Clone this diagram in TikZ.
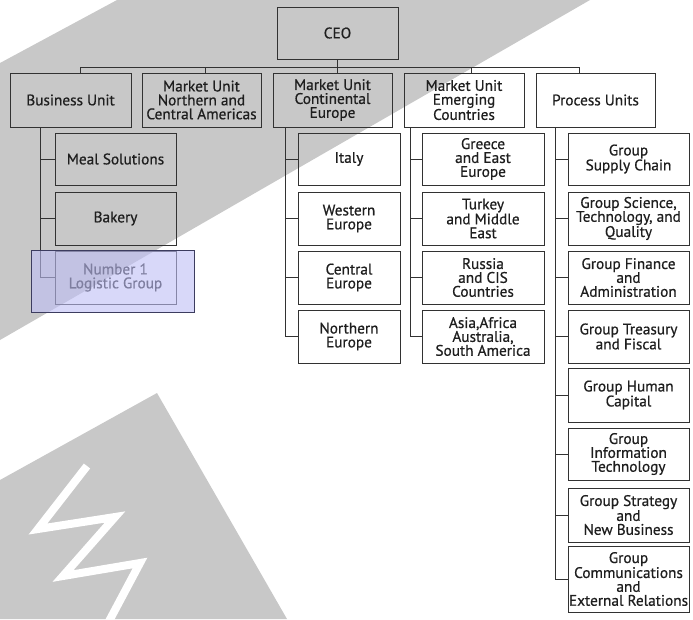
\documentclass[tikz,border=0pt]{standalone}
\usepackage{fontspec}
\setmainfont{PT Sans}
\newfontfamily\boxfont[FakeBold=0.6]{PT Sans}
\definecolor{linec}{RGB}{50,50,50}
\definecolor{txtc}{RGB}{30,30,30}
\definecolor{wmgrey}{RGB}{200,200,200}
\definecolor{ovfill}{RGB}{190,190,245}
\definecolor{ovline}{RGB}{60,60,95}
\tikzset{
  box/.style={draw=linec, line width=0.9pt, inner sep=0pt, align=center,
    text=txtc, font=\boxfont\fontsize{15.3}{13.9}\selectfont},
  lvl/.style={box, minimum width=120pt, minimum height=54pt},
  conn/.style={draw=linec, line width=0.9pt},
}
\begin{document}
\begin{tikzpicture}[x=1pt,y=-1pt]
\useasboundingbox (0,0) rectangle (693,619);
% watermark background
\fill[wmgrey] (117,0) -- (590,0) -- (0,340) -- (0,63) -- cycle;
\fill[wmgrey] (157,393) -- (0,480) -- (0,619) -- (287,619) -- cycle;
\draw[white, line width=8pt, line join=miter] (87,466) -- (38,529) -- (115,517) -- (63,576) -- (140,563) -- (107,625);
% top
\node[box, minimum width=121pt, minimum height=52pt] (ceo) at (337.5,33) {CEO};
\node[lvl, minimum width=121pt] (bu) at (70.5,100) {Business Unit};
\node[lvl, minimum width=119pt] (nca) at (201.5,100) {Market Unit\\Northern and\\Central Americas};
\node[lvl, minimum width=119pt] (ce) at (332.5,100) {Market Unit\\Continental\\Europe};
\node[lvl] (em) at (464,100) {Market Unit\\Emerging\\Countries};
\node[lvl, minimum width=119pt] (pu) at (595.5,100) {Process Units};
% bus
\coordinate (bl) at (80,67);
\coordinate (br) at (579,67);
\coordinate (t2) at (205,67);
\coordinate (t4) at (471,67);
\draw[conn] (bl) -- (br);
\draw[conn] (ceo.south) -- (ceo.south |- ce.north);
\draw[conn] (bl) -- (bl |- bu.north);
\draw[conn] (t2) -- (t2 |- nca.north);
\draw[conn] (t4) -- (t4 |- em.north);
\draw[conn] (br) -- (br |- pu.north);
% business unit column
\tikzset{bsub/.style={box, minimum width=121pt, minimum height=53pt}}
\node[bsub, minimum height=52pt] (meal) at (115.5,159) {Meal Solutions};
\node[bsub] (bak) at (115.5,218.5) {Bakery};
\node[bsub, text=txtc] (num) at (115.5,277.5) {Number 1\\Logistic Group};
\draw[conn] (bu.south -| 40,0) |- (num.west);
\draw[conn] (meal.west) -- (meal.west -| 40,0);
\draw[conn] (bak.west) -- (bak.west -| 40,0);
% continental europe column
\tikzset{csub/.style={box, minimum width=102pt, minimum height=53pt}}
\node[csub, minimum height=52pt] (ita) at (349,159) {Italy};
\node[csub] (we) at (349,218.5) {Western\\Europe};
\node[csub] (cen) at (349,277.5) {Central\\Europe};
\node[csub] (ne) at (349,336.5) {Northern\\Europe};
\draw[conn] (ce.south -| 285,0) |- (ne.west);
\foreach \n in {ita,we,cen} \draw[conn] (\n.west) -- (\n.west -| 285,0);
% emerging column
\tikzset{esub/.style={box, minimum width=122pt, minimum height=53pt}}
\node[esub, minimum height=52pt] (gre) at (483,159) {Greece\\and East\\Europe};
\node[esub] (tur) at (483,218.5) {Turkey\\and Middle\\East};
\node[esub] (rus) at (483,277.5) {Russia\\and CIS\\Countries};
\node[esub] (asi) at (483,336.5) {Asia,Africa\\Australia,\\South America};
\draw[conn] (em.south -| 410,0) |- (asi.west);
\foreach \n in {gre,tur,rus} \draw[conn] (\n.west) -- (\n.west -| 410,0);
% process units column
\tikzset{psub/.style={box, minimum width=121pt, minimum height=53pt}}
\node[psub, minimum height=52pt] (gsc) at (628.5,159) {Group\\Supply Chain};
\node[psub] (gst) at (628.5,218.5) {Group Science,\\Technology, and\\Quality};
\node[psub] (gfa) at (628.5,277.5) {Group Finance\\and\\Administration};
\node[psub] (gtf) at (628.5,336.5) {Group Treasury\\and Fiscal};
\node[psub, minimum height=54pt] (ghc) at (628.5,395) {Group Human\\Capital};
\node[psub, minimum height=52pt] (git) at (628.5,454) {Group\\Information\\Technology};
\node[psub, minimum height=54pt] (gsn) at (628.5,515) {Group Strategy\\and\\New Business};
\node[psub, minimum height=66pt] (gce) at (628.5,579) {Group\\Communications\\and\\External Relations};
\draw[conn] (pu.south -| 555,0) |- (gce.west);
\foreach \n in {gsc,gst,gfa,gtf,ghc,git,gsn} \draw[conn] (\n.west) -- (\n.west -| 555,0);
% translucent overlay
\draw[fill=ovfill, fill opacity=0.6, draw=ovline, line width=1pt] (31,250) rectangle (194,312);
\end{tikzpicture}
\end{document}
